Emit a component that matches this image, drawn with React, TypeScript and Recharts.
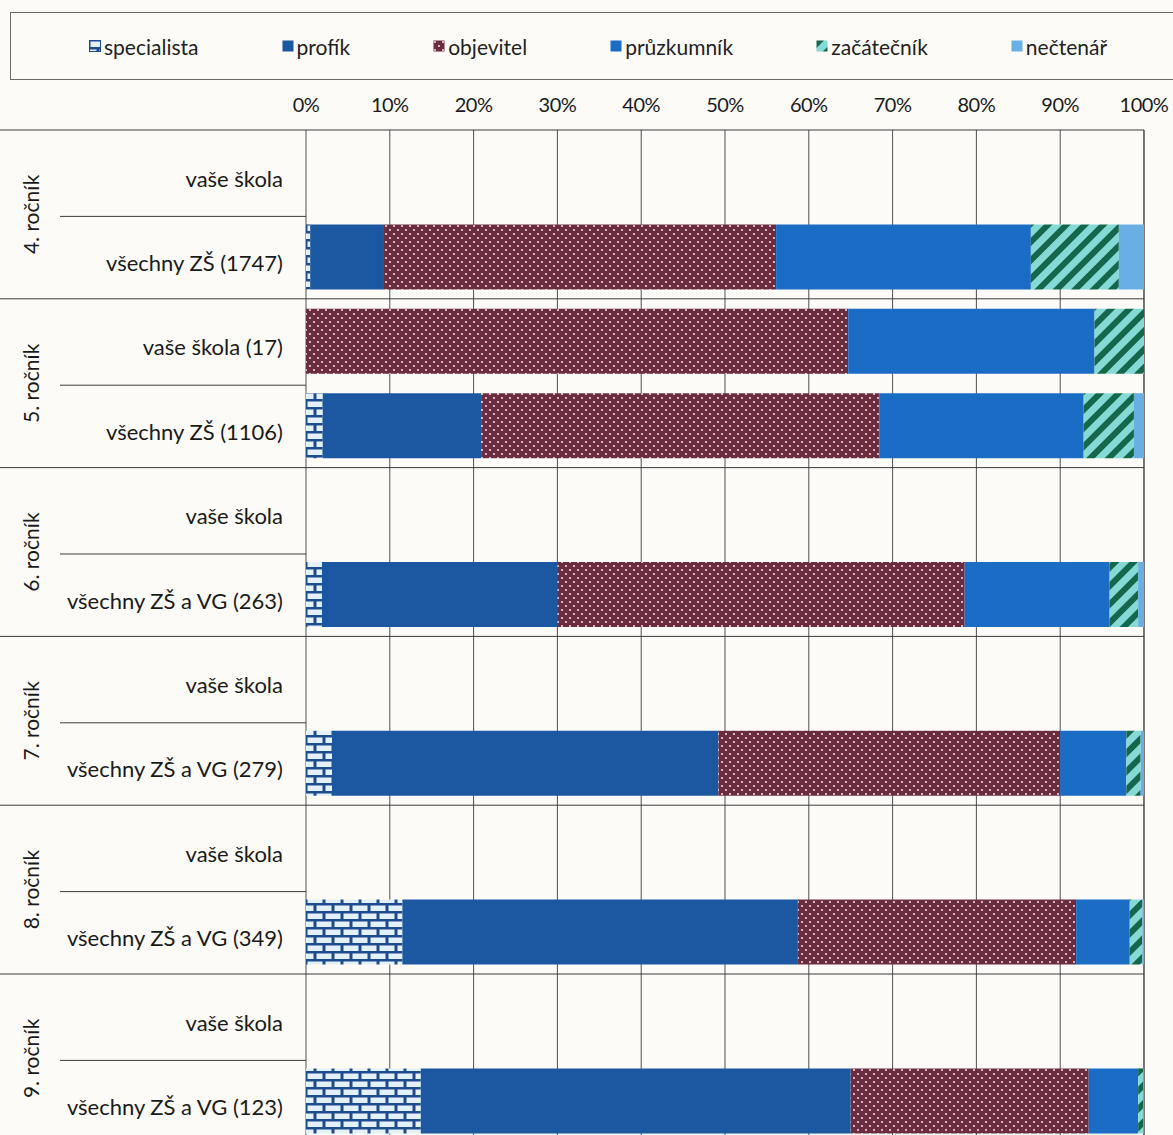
import React from "react"
import { Bar, BarChart, CartesianGrid, XAxis, YAxis } from "recharts"

// rows top to bottom, two per grade
const rowLabels = [
  "vaše škola",
  "všechny ZŠ (1747)",
  "vaše škola (17)",
  "všechny ZŠ (1106)",
  "vaše škola",
  "všechny ZŠ a VG (263)",
  "vaše škola",
  "všechny ZŠ a VG (279)",
  "vaše škola",
  "všechny ZŠ a VG (349)",
  "vaše škola",
  "všechny ZŠ a VG (123)",
]
const groupLabels = ["4. ročník", "5. ročník", "6. ročník", "7. ročník", "8. ročník", "9. ročník"]

// percentages per segment
const specialista = [0, 0.5, 0, 2.0, 0, 1.9, 0, 3.1, 0, 11.5, 0, 13.7]
const profik = [0, 8.7, 0, 18.9, 0, 28.1, 0, 46.1, 0, 47.2, 0, 51.3]
const objevitel = [0, 46.9, 64.7, 47.5, 0, 48.6, 0, 40.8, 0, 33.2, 0, 28.4]
const pruzkumnik = [0, 30.4, 29.4, 24.4, 0, 17.3, 0, 7.9, 0, 6.4, 0, 5.9]
const zacatecnik = [0, 10.5, 5.9, 6.0, 0, 3.4, 0, 1.7, 0, 1.5, 0, 0.6]
const nectenar = [0, 3.0, 0, 1.2, 0, 0.7, 0, 0.4, 0, 0.2, 0, 0.1]

const xTicks = [0, 10, 20, 30, 40, 50, 60, 70, 80, 90, 100]

const data = rowLabels.map((_, i) => ({
  idx: i,
  specialista: specialista[i],
  profik: profik[i],
  objevitel: objevitel[i],
  pruzkumnik: pruzkumnik[i],
  zacatecnik: zacatecnik[i],
  nectenar: nectenar[i],
}))

const series = [
  { key: "specialista", name: "specialista", fill: "url(#pSpec)" },
  { key: "profik", name: "profík", fill: "#1c57a2" },
  { key: "objevitel", name: "objevitel", fill: "url(#pObj)" },
  { key: "pruzkumnik", name: "průzkumník", fill: "#1b6cc5" },
  { key: "zacatecnik", name: "začátečník", fill: "url(#pZac)" },
  { key: "nectenar", name: "nečtenář", fill: "#6aafe3" },
]

// page reset so the chart sits at 0,0 with no scrollbars
if (typeof document !== "undefined") {
  document.body.style.margin = "0"
  document.documentElement.style.overflow = "hidden"
  document.body.style.overflow = "hidden"
}

const FONT = "Lato, 'DejaVu Sans', sans-serif"
const W = 1173
const PLOT_LEFT = 306
const PLOT_RIGHT = 1144
const PLOT_TOP = 130
const BAND = 84.4
const CHART_H = PLOT_TOP + BAND * rowLabels.length + 5
const LINE = "#3c3c3c"

function Patterns({ suffix = "" }: { suffix?: string }) {
  return (
    <defs>
      <pattern id={"pSpec" + suffix} width="18" height="16" patternUnits="userSpaceOnUse">
        <rect width="18" height="16" fill="#1d4c8f" />
        <rect x="1.5" y="1.5" width="15" height="5.5" fill="#e4f1fb" />
        <rect x="10.5" y="9.5" width="15" height="5.5" fill="#e4f1fb" />
        <rect x="-7.5" y="9.5" width="15" height="5.5" fill="#e4f1fb" />
      </pattern>
      <pattern id={"pObj" + suffix} width="8" height="8" patternUnits="userSpaceOnUse">
        <rect width="8" height="8" fill="#6b2c40" />
        <circle cx="2" cy="2" r="1" fill="#f2e4ea" />
        <circle cx="6" cy="6" r="1" fill="#f2e4ea" />
      </pattern>
      <pattern
        id={"pZac" + suffix}
        width="13"
        height="13"
        patternUnits="userSpaceOnUse"
        patternTransform="rotate(45)"
      >
        <rect width="13" height="13" fill="#86dad6" />
        <rect width="6" height="13" fill="#15674b" />
      </pattern>
    </defs>
  )
}

function RowTick(props: any) {
  const { x, y, payload } = props
  const i = Number(payload.value)
  const half = BAND / 2
  const first = i % 2 === 0
  return (
    <g>
      <text
        x={x - 15}
        y={y + 6}
        textAnchor="end"
        dominantBaseline="central"
        fontFamily={FONT}
        fontSize={22}
        fill="#1a1a1a"
      >
        {rowLabels[i]}
      </text>
      {i === 0 && <line x1={0} x2={PLOT_RIGHT} y1={y - half} y2={y - half} stroke={LINE} />}
      {first && (
        <>
          <line x1={60} x2={PLOT_LEFT} y1={y + half + 2} y2={y + half + 2} stroke={LINE} />
          <text
            transform={`translate(30, ${y + half}) rotate(-90)`}
            textAnchor="middle"
            dominantBaseline="central"
            fontFamily={FONT}
            fontSize={21}
            fill="#1a1a1a"
          >
            {groupLabels[i / 2]}
          </text>
        </>
      )}
      {!first && <line x1={0} x2={PLOT_RIGHT} y1={y + half} y2={y + half} stroke={LINE} />}
    </g>
  )
}

function LegendIcon({ fill, id }: { fill: string; id: string }) {
  const f = fill.startsWith("url(") ? fill.replace(")", "L)") : fill
  return (
    <svg width="12" height="12" style={{ marginRight: 3 }}>
      <Patterns suffix="L" />
      <rect x="0.5" y="0.5" width="11" height="11" fill={f} stroke={id === "specialista" ? "#1d4c8f" : "none"} />
    </svg>
  )
}

export default function App() {
  return (
    <div
      style={{
        position: "relative",
        width: W,
        height: 1135,
        overflow: "hidden",
        background: "#fcfbf8",
        fontFamily: FONT,
      }}
    >
      <div
        style={{
          position: "absolute",
          left: 10,
          top: 12,
          width: 1180,
          height: 68,
          border: "1px solid #6a6a6a",
          display: "flex",
          alignItems: "center",
          paddingLeft: 78,
          gap: 83,
          boxSizing: "border-box",
          fontSize: 21,
          color: "#222",
        }}
      >
        {series.map((s) => (
          <div key={s.key} style={{ display: "flex", alignItems: "center" }}>
            <LegendIcon fill={s.fill} id={s.key} />
            <span>{s.name}</span>
          </div>
        ))}
      </div>
      <div style={{ position: "absolute", left: 0, top: 0 }}>
        <BarChart
          width={W}
          height={CHART_H}
          data={data}
          layout="vertical"
          margin={{ top: PLOT_TOP - 30, right: W - PLOT_RIGHT, bottom: 5, left: 0 }}
          barSize={65}
        >
          <Patterns />
          <CartesianGrid horizontal={false} stroke={LINE} strokeOpacity={0.9} />
          <XAxis
            type="number"
            orientation="top"
            domain={[0, 100]}
            ticks={xTicks}
            height={30}
            axisLine={false}
            tickLine={false}
            tickMargin={12}
            tickFormatter={(v) => `${v}%`}
            tick={{ fontFamily: FONT, fontSize: 20, fill: "#1a1a1a", letterSpacing: -0.5 }}
            interval={0}
          />
          <YAxis
            type="category"
            dataKey="idx"
            width={PLOT_LEFT}
            axisLine={false}
            tickLine={false}
            tick={<RowTick />}
            interval={0}
          />
          {series.map((s) => (
            <Bar key={s.key} dataKey={s.key} name={s.name} stackId="a" fill={s.fill} isAnimationActive={false} />
          ))}
        </BarChart>
      </div>
    </div>
  )
}
